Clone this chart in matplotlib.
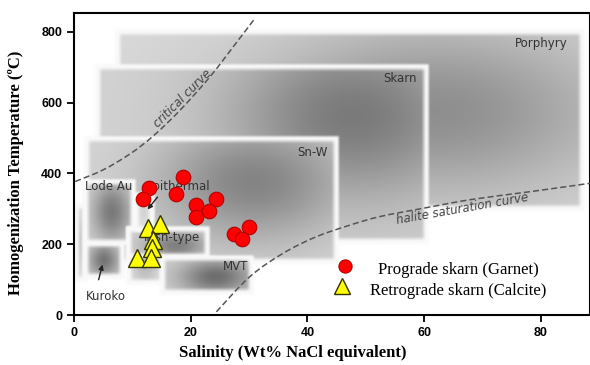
import numpy as np
import matplotlib
matplotlib.use('Agg')
import matplotlib.pyplot as plt
from matplotlib.path import Path
from matplotlib.patches import PathPatch

# fields of deposit types (salinity wt% NaCl eq, temperature C)
field_names = ['Porphyry', 'Skarn', 'Sn-W', 'Kuroko', 'Kuroko', 'Lode Au',
               'Irish-type', 'Irish-type', 'Epithermal', 'MVT']
field_sal_min = [7.3, 4.0, 2.0, 0.2, 1.9, 1.9, 9.2, 9.2, 10.5, 15.1]
field_sal_max = [87.0, 60.5, 45.0, 1.9, 8.4, 10.2, 15.1, 22.8, 13.5, 30.5]
field_t_min = [300, 205, 150, 100, 107, 203, 90, 164, 240, 62]
field_t_max = [800, 700, 500, 310, 203, 376, 245, 245, 340, 161]

# curves
crit_sal = [0.2, 5.0, 9.6, 13.6, 18.2, 23.3, 27.3, 31.0]
crit_t = [377, 410, 455, 506, 579, 673, 758, 838]
halite_sal = [24.4, 30.1, 35.8, 41.5, 47.3, 52.4, 60.0, 68.0, 78.0, 88.4]
halite_t = [9, 108, 174, 221, 254, 278, 302, 326, 348, 372]

# fluid inclusion data
prograde_sal = [18.7, 12.9, 11.8, 17.5, 20.9, 24.3, 23.2, 20.9, 27.4, 30.0, 28.7]
prograde_t = [391, 358, 327, 342, 311, 328, 294, 276, 229, 248, 214]
retro_sal = [12.6, 14.7, 13.5, 13.3, 10.8, 13.2]
retro_t = [245, 257, 212, 190, 160, 160]

W, H = 590, 365
fig = plt.figure(figsize=(W / 100, H / 100), dpi=100)
pos = [74 / W, 1 - 315 / H, (W - 74) / W, 302 / H]
ax = fig.add_axes(pos)
xmax, ymax = 88.4, 853
ax.set_xlim(0, xmax)
ax.set_ylim(0, ymax)
sx = pos[2] * W / xmax
sy = pos[3] * H / ymax

# shading of each field: depth, centre of darkest part (fractions of box)
shade = {0: (0.42, 0.68, 0.55), 1: (0.5, 0.78, 0.72), 2: (0.46, 0.67, 0.65),
         3: (0.2, 0.5, 0.5), 4: (0.52, 0.5, 0.5), 5: (0.5, 0.55, 0.5),
         6: (0.3, 0.5, 0.5), 7: (0.48, 0.6, 0.4), 8: (0.15, 0.5, 0.5),
         9: (0.55, 0.6, 0.45)}


def smooth(a):
    a = np.clip(a, 0, 1)
    return a * a * (3 - 2 * a)


m = 4.0
for i in range(len(field_names)):
    x0, x1 = field_sal_min[i], field_sal_max[i]
    y0, y1 = field_t_min[i], field_t_max[i]
    wpx, hpx = (x1 - x0) * sx, (y1 - y0) * sy
    X, Y = np.meshgrid(np.linspace(-m, wpx + m, int(wpx + 2 * m) * 2),
                       np.linspace(-m, hpx + m, int(hpx + 2 * m) * 2))
    dx = np.minimum(X, wpx - X)
    dy = np.minimum(Y, hpx - Y)
    edge = smooth(dx / 6) * smooth(dy / 6)
    alpha = smooth((dx + m) / m) * smooth((dy + m) / m)
    depth, cu, cv = shade[i]
    U, V = X / wpx, Y / hpx
    inner = np.exp(-((U - cu) ** 2 / (2 * 0.28 ** 2) + (V - cv) ** 2 / (2 * 0.35 ** 2)))
    gray = 0.98 - depth * edge * (0.3 + 0.7 * inner)
    rgba = np.dstack([gray, gray, gray, alpha])
    ax.imshow(rgba, extent=(x0 - m / sx, x1 + m / sx, y0 - m / sy, y1 + m / sy),
              origin='lower', aspect='auto', interpolation='bilinear', zorder=1 + i * 0.01)


def smooth_path(xs, ys):
    # Catmull-Rom through the read points, drawn as cubic Bezier segments
    p = np.column_stack([xs, ys]).astype(float)
    p = np.vstack([p[0], p, p[-1]])
    verts = [p[1]]
    codes = [Path.MOVETO]
    for k in range(1, len(p) - 2):
        c1 = p[k] + (p[k + 1] - p[k - 1]) / 6
        c2 = p[k + 1] - (p[k + 2] - p[k]) / 6
        verts += [c1, c2, p[k + 1]]
        codes += [Path.CURVE4] * 3
    return Path(verts, codes)


for cx, cy in [(crit_sal, crit_t), (halite_sal, halite_t)]:
    ax.add_patch(PathPatch(smooth_path(cx, cy), fill=False, ls=(0, (4, 2)),
                           edgecolor='#555555', lw=1.1, zorder=3))

lab = dict(color='#333333', fontsize=8.5, family='DejaVu Sans', zorder=4,
           ha='center', va='center')
ax.text(80.1, 768, 'Porphyry', **lab)
ax.text(55.8, 667, 'Skarn', **lab)
ax.text(40.8, 460, 'Sn-W', **lab)
ax.text(6.0, 362, 'Lode Au', **lab)
ax.text(17.8, 364, 'Epithermal', **lab)
ax.text(16.8, 220, 'Irish-type', **lab)
ax.text(27.7, 136, 'MVT', **lab)
ax.text(5.5, 51, 'Kuroko', **lab)
ax.text(18.6, 612, 'critical curve', color='#444444', fontsize=8.5, rotation=45,
        ha='center', va='center', zorder=4, style='italic')
ax.text(66.6, 299, 'halite saturation curve', color='#444444', fontsize=8.5,
        rotation=10, ha='center', va='center', zorder=4, style='italic')
ax.annotate('', xy=(5.0, 150), xytext=(4.1, 92),
            arrowprops=dict(arrowstyle='-|>', color='#222222', lw=1, mutation_scale=7), zorder=4)
ax.annotate('', xy=(12.3, 292), xytext=(14.6, 339),
            arrowprops=dict(arrowstyle='-|>', color='#222222', lw=1, mutation_scale=7), zorder=4)

ax.plot(prograde_sal, prograde_t, 'o', ms=10.5, mfc='#ff0000', mec='#b00000', mew=0.8, zorder=5)
ax.plot(retro_sal, retro_t, '^', ms=13, mfc='#ffff00', mec='#333300', mew=1, zorder=6)

# legend
ax.plot([0.525], [0.162], 'o', ms=9.5, mfc='#ff0000', mec='#b00000', mew=0.8,
        transform=ax.transAxes, zorder=6)
ax.plot([0.519], [0.095], '^', ms=11.5, mfc='#ffff00', mec='#333300', mew=1,
        transform=ax.transAxes, zorder=6)
ax.text(0.744, 0.150, 'Prograde skarn (Garnet)', transform=ax.transAxes, ha='center',
        va='center', family='Liberation Serif', fontsize=12, zorder=6)
ax.text(0.744, 0.080, 'Retrograde skarn (Calcite)', transform=ax.transAxes, ha='center',
        va='center', family='Liberation Serif', fontsize=12, zorder=6)

ax.set_xticks([0, 20, 40, 60, 80])
ax.set_yticks([0, 200, 400, 600, 800])
ax.tick_params(direction='out', length=5, width=1.3)
for t in ax.get_xticklabels() + ax.get_yticklabels():
    t.set_family('Liberation Sans')
    t.set_fontweight('bold')
    t.set_fontsize(9)
for s in ax.spines.values():
    s.set_linewidth(1.5)
ax.set_xlabel('Salinity (Wt% NaCl equivalent)', family='Liberation Serif',
              fontweight='bold', fontsize=12)
ax.xaxis.set_label_coords(0.424, -0.098)
ax.set_ylabel('Homogenization Temperature (ºC)', family='Liberation Serif',
              fontweight='bold', fontsize=12)
ax.yaxis.set_label_coords(-0.097, 0.47)

fig.savefig('out.png', dpi=100)
